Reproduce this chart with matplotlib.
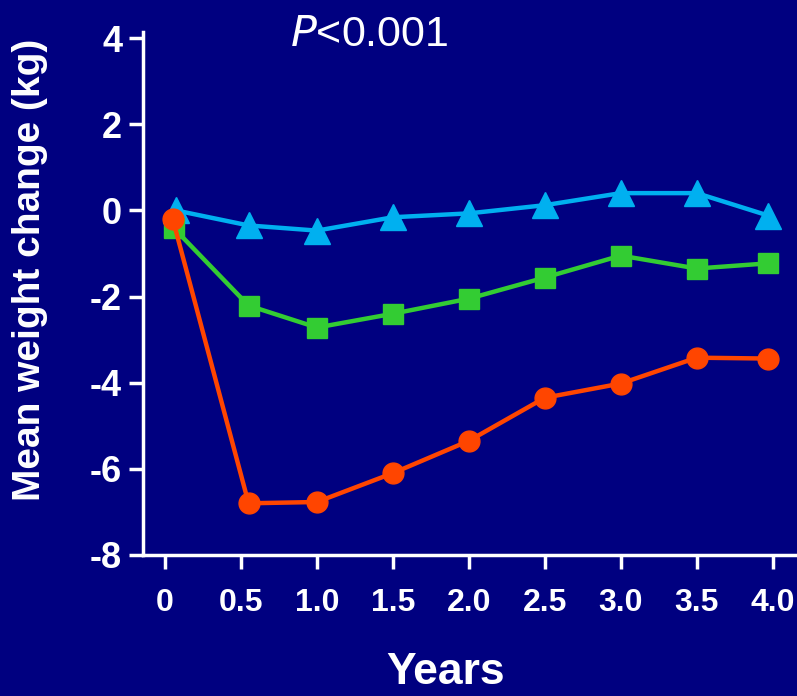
import matplotlib
matplotlib.use("Agg")
import matplotlib.pyplot as plt

years_red = [0.05, 0.55, 1.0, 1.5, 2.0, 2.5, 3.0, 3.5, 3.97]
red = [-0.19, -6.8, -6.77, -6.1, -5.35, -4.35, -4.02, -3.42, -3.44]

years_green = [0.06, 0.55, 1.0, 1.5, 2.0, 2.5, 3.0, 3.5, 3.97]
green = [-0.42, -2.21, -2.72, -2.4, -2.05, -1.56, -1.05, -1.35, -1.23]

years_blue = [0.07, 0.55, 1.0, 1.5, 2.0, 2.5, 3.0, 3.5, 3.97]
blue = [0.0, -0.35, -0.47, -0.16, -0.07, 0.12, 0.4, 0.4, -0.12]

xticks = [0, 0.5, 1.0, 1.5, 2.0, 2.5, 3.0, 3.5, 4.0]
xtick_labels = ["0", "0.5", "1.0", "1.5", "2.0", "2.5", "3.0", "3.5", "4.0"]
yticks = [-8, -6, -4, -2, 0, 2, 4]

bg = "#000080"
plt.rcParams["font.family"] = ["Liberation Sans", "DejaVu Sans"]
plt.rcParams["axes.unicode_minus"] = False

fig = plt.figure(figsize=(7.97, 6.96), dpi=100, facecolor=bg)
ax = fig.add_axes([0.1794, 0.2026, 0.8206, 0.7514], facecolor=bg)

ax.plot(years_blue, blue, color="#00B0F0", lw=3.2, marker="^", ms=19, zorder=3)
ax.plot(years_green, green, color="#33CC33", lw=3.2, marker="s", ms=15, zorder=4)
ax.plot(years_red, red, color="#FF4500", lw=3.2, marker="o", ms=15, zorder=5)

ax.set_xlim(-0.145, 4.16)
ax.set_ylim(-8, 4.14)

for side in ["top", "right"]:
    ax.spines[side].set_visible(False)
for side in ["left", "bottom"]:
    ax.spines[side].set_color("white")
    ax.spines[side].set_linewidth(2.5)

ax.set_xticks(xticks)
ax.set_xticklabels(xtick_labels)
ax.set_yticks(yticks)
ax.tick_params(colors="white", width=2.5, length=10)
ax.tick_params(axis="x", labelsize=23, pad=14)
ax.tick_params(axis="y", labelsize=26, pad=5)
for lab in ax.get_xticklabels() + ax.get_yticklabels():
    lab.set_fontweight("bold")

ax.set_xlabel("Years", color="white", fontsize=32, fontweight="bold")
ax.xaxis.set_label_coords(0.462, -0.185)
ax.set_ylabel("Mean weight change (kg)", color="white", fontsize=28,
              fontweight="bold")
ax.yaxis.set_label_coords(-0.145, 0.545)

ax.text(0.82, 4.08, "$\\it{P}$<0.001", color="white", fontsize=31,
        ha="left", va="center", math_fontfamily="dejavusans")

fig.savefig("out.png", dpi=100, facecolor=bg)
